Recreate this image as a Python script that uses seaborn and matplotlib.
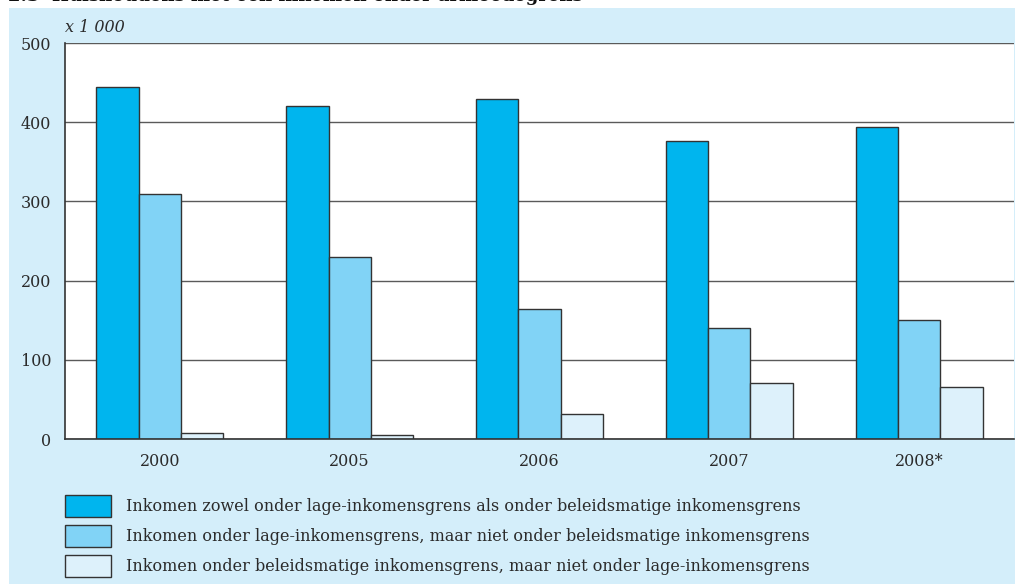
import matplotlib
matplotlib.use("Agg")
import matplotlib.pyplot as plt
import seaborn as sns
import pandas as pd
from matplotlib.patches import Rectangle, Patch

years = ["2000", "2005", "2006", "2007", "2008*"]
series_names = [
    "Inkomen zowel onder lage-inkomensgrens als onder beleidsmatige inkomensgrens",
    "Inkomen onder lage-inkomensgrens, maar niet onder beleidsmatige inkomensgrens",
    "Inkomen onder beleidsmatige inkomensgrens, maar niet onder lage-inkomensgrens",
]
both_below = [445, 420, 429, 376, 394]
low_income_only = [309, 230, 164, 140, 150]
policy_only = [8, 5, 32, 71, 66]
colors = ["#00B5EE", "#81D3F6", "#DDF1FB"]
yticks = [0, 100, 200, 300, 400, 500]

rows = []
for name, vals in zip(series_names, [both_below, low_income_only, policy_only]):
    for y, v in zip(years, vals):
        rows.append({"jaar": y, "reeks": name, "waarde": v})
df = pd.DataFrame(rows)

sns.set_theme(style="white")
plt.rcParams["font.family"] = ["DejaVu Serif", "Liberation Serif"]
txt = "#2b2b2b"

W, H = 1015, 584
fig = plt.figure(figsize=(W / 100, H / 100), dpi=100, facecolor="white")
fig.patches.append(Rectangle((9 / W, 0), 1 - 9 / W, (H - 8) / H, transform=fig.transFigure,
                             facecolor="#D4EEFA", edgecolor="none", zorder=-10))
fig.text(8 / W, 1 - 1 / H, "2.3  Huishoudens met een inkomen onder armoedegrens",
         fontsize=13, fontweight="bold", color="#111111", va="baseline", ha="left",
         family=["DejaVu Serif"])

ax = fig.add_axes([65 / W, (H - 439) / H, (1014 - 65) / W, (439 - 43) / H])
ax.set_facecolor("white")
sns.barplot(data=df, x="jaar", y="waarde", hue="reeks", hue_order=series_names,
            palette=colors, width=0.67, gap=0, edgecolor="#333333", linewidth=1.0,
            saturation=1, ax=ax, legend=False, zorder=3)
ax.set_xlim(-0.5, 4.5)
ax.set_ylim(0, 500)
ax.set_yticks(yticks)
ax.set_yticklabels([str(t) for t in yticks], fontsize=11.5, color=txt)
ax.set_xticks(range(len(years)))
ax.set_xticklabels(years, fontsize=11.5, color=txt)
ax.tick_params(axis="y", length=0, pad=10)
ax.tick_params(axis="x", length=0, pad=10)
ax.set_xlabel("")
ax.set_ylabel("")
ax.yaxis.grid(True, color="#5a5a5a", linewidth=1.0, zorder=1)
ax.set_axisbelow(True)
for s in ["top", "right"]:
    ax.spines[s].set_visible(False)
for s in ["left", "bottom"]:
    ax.spines[s].set_color("#333333")
    ax.spines[s].set_linewidth(1.2)
ax.spines["bottom"].set_zorder(5)

fig.text(65 / W, 1 - 27 / H, "x 1 000", fontsize=11.5, style="italic", color=txt,
         va="center", ha="left")

handles = [Patch(facecolor=c, edgecolor="#333333", linewidth=1.0) for c in colors]
fs = 11.5
px = fs * 100 / 72
hh = 1.74
fig.legend(handles, series_names, loc="upper left", bbox_to_anchor=(65 / W, 1 - 495 / H),
           frameon=False, fontsize=fs, handlelength=46 / px, handleheight=hh,
           labelspacing=8 / px, handletextpad=15 / px, borderpad=0,
           borderaxespad=0, labelcolor=txt)

fig.savefig("out.png", dpi=100, facecolor="white")
